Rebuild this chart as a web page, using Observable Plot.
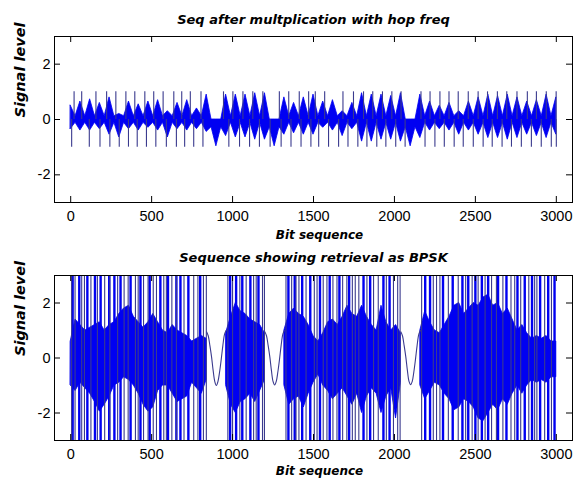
<!DOCTYPE html>
<html>
<head>
<meta charset="utf-8">
<script src="https://cdn.jsdelivr.net/npm/d3@7"></script>
<script src="https://cdn.jsdelivr.net/npm/@observablehq/plot@0.6"></script>
<style>
  body { margin: 0; background: #fff; }
  #chart svg { display: block; }
</style>
</head>
<body>
<div id="chart"></div>
<script>
// ---------- tick labels ----------
const xTicks = [0, 500, 1000, 1500, 2000, 2500, 3000];
const yTicks = [-2, 0, 2];

// ---------- top panel: "Seq after multplication with hop freq" ----------
// envelope of the dense signal, sampled every 30 bits (x = 0, 30, ..., 3000)
const topHi = [0.5,0.12,0.65,0.12,0.73,0.12,0.6,0.12,0.8,0.12,
  0.2,0.12,0.65,0.12,0.55,0.12,0.65,0.12,0.7,0.12,
  0.3,0.12,0.6,0.12,0.7,0.12,0.4,0.12,0.9,0,
  0,0,0.9,0.12,0.9,0.12,0.9,0.12,0.95,0.12,
  0.95,0,0,0,0.8,0.12,0.6,0.12,0.8,0.12,
  0.9,0.12,0.65,0.12,0.7,0.12,0.3,0.12,0.6,0.12,
  0.95,0.12,0.9,0.12,0.9,0.12,0.85,0.12,0.95,0,
  0,0,0.9,0.12,0.65,0.12,0.5,0.12,0.6,0.12,
  0.3,0.12,0.65,0.12,0.8,0.12,0.9,0.12,0.85,0.12,
  0.9,0.12,0.8,0.12,0.65,0.12,0.7,0.12,0.9,0.12,0.8];
const topLo = [-0.35,-0.12,-0.4,-0.12,-0.4,-0.12,-0.35,-0.12,-0.55,-0.12,
  -0.65,-0.12,-0.35,-0.12,-0.4,-0.12,-0.3,-0.12,-0.4,-0.12,
  -0.65,-0.12,-0.35,-0.12,-0.4,-0.12,-0.35,-0.12,-0.45,-0.28,
  -0.97,-0.28,-0.6,-0.12,-0.65,-0.12,-0.65,-0.12,-0.73,-0.12,
  -0.73,-0.28,-0.97,-0.28,-0.55,-0.12,-0.5,-0.12,-0.55,-0.12,
  -0.55,-0.12,-0.3,-0.12,-0.4,-0.12,-0.6,-0.12,-0.35,-0.12,
  -0.8,-0.12,-0.8,-0.12,-0.73,-0.12,-0.73,-0.12,-0.8,-0.28,
  -0.97,-0.28,-0.67,-0.12,-0.4,-0.12,-0.35,-0.12,-0.4,-0.12,
  -0.55,-0.12,-0.4,-0.12,-0.55,-0.12,-0.67,-0.12,-0.67,-0.12,
  -0.73,-0.12,-0.67,-0.12,-0.55,-0.12,-0.6,-0.12,-0.67,-0.12,-0.55];
// thin spikes reaching +1 and -1
const topSpikeUpX = [21,68,156,222,279,341,396,458,513,571,637,686,739,805,944,1002,1064,1125,1187,
  1289,1347,1412,1470,1511,1569,1682,1747,1809,1866,1926,1984,2041,2164,2220,2281,2337,2394,2456,
  2517,2575,2636,2694,2757,2821,2877,2938,2999];
const topSpikeDownX = [6,115,181,242,300,357,411,468,526,591,653,704,760,817,977,1043,1105,1166,1232,
  1300,1361,1423,1484,1532,1593,1655,1713,1774,1830,1891,1947,2008,2066,2189,2250,2308,2369,2425,
  2487,2548,2604,2665,2723,2784,2846,2907,2969,3000];

// ---------- bottom panel: "Sequence showing retrieval as BPSK" ----------
const botHi = [0.6,1.4,1.2,1.0,1.1,1.2,1.3,1.0,1.2,1.3,
  1.6,1.8,1.9,1.5,1.3,1.1,1.3,1.6,1.3,1.0,
  0.9,1.2,1.0,0.9,0.8,0.6,0.7,0.8,0.7,null,
  null,null,0.9,1.5,2.0,1.7,1.6,1.4,1.3,1.2,
  0.9,null,null,null,1.0,1.6,1.8,1.6,1.5,1.2,
  0.8,0.6,0.9,1.3,1.4,1.2,1.5,1.9,1.6,1.5,
  1.9,1.5,1.2,1.0,1.9,1.3,1.0,1.2,0.9,null,
  null,null,1.0,1.7,1.3,1.0,0.9,1.2,1.5,1.9,
  2.0,1.6,1.8,2.0,1.9,2.2,2.3,1.9,2.0,1.6,
  1.8,1.4,1.0,1.2,0.9,0.7,0.8,0.7,0.8,0.6,0.6];
const botLo = [-1.0,-1.2,-0.9,-1.1,-1.3,-1.6,-1.95,-1.7,-1.4,-1.0,
  -0.9,-0.7,-0.8,-1.0,-1.3,-1.7,-1.95,-1.8,-1.2,-1.0,
  -1.0,-1.3,-1.6,-1.5,-1.4,-0.9,-1.1,-1.3,-0.8,null,
  null,null,-1.0,-1.7,-2.0,-1.6,-1.5,-1.3,-1.6,-1.2,
  -0.8,null,null,null,-1.0,-1.7,-1.5,-1.4,-1.8,-1.3,
  -0.9,-0.6,-1.0,-1.2,-1.5,-1.3,-1.1,-1.4,-1.7,-1.3,
  -2.0,-1.4,-1.1,-1.3,-2.0,-1.4,-1.1,-2.2,-0.9,null,
  null,null,-1.0,-1.5,-1.2,-0.9,-1.0,-1.3,-1.5,-1.9,
  -1.8,-1.5,-1.6,-1.8,-2.2,-2.3,-2.0,-1.7,-1.9,-1.5,
  -1.7,-1.3,-1.0,-1.3,-1.0,-0.8,-0.9,-0.8,-0.9,-0.7,-0.7];
// slow waves in the gaps, read every 10 bits
const wave1Start = 840, wave2Start = 1200, wave3Start = 2040;
const wave1Y = [0.95,0.8,0.45,0.05,-0.45,-0.85,-1.0,-0.85,-0.5,-0.05,0.45,0.85,1.0];
const wave2Y = [0.95,0.8,0.45,0.05,-0.45,-0.85,-0.98,-0.85,-0.5,-0.05,0.45,0.85,1.0];
const wave3Y = [0.95,0.8,0.45,0.05,-0.45,-0.85,-0.97,-0.85,-0.5,-0.05,0.45,0.85,1.0];
// thin lines running off the axes (beyond +/-3)
const botSpikeX = [6,27,68,85,125,165,210,242,290,330,355,400,417,450,478,510,530,575,591,625,653,
  700,760,786,820,838,971,1000,1045,1084,1130,1146,1185,1197,1330,1365,1392,1410,1454,1505,1522,
  1560,1583,1620,1645,1680,1706,1740,1758,1780,1830,1871,1900,1950,1994,2020,2035,2168,2240,2260,
  2281,2333,2394,2440,2480,2517,2560,2600,2630,2670,2720,2743,2780,2830,2866,2880,2928,2970];
// thick blue bursts running off the axes
const botBarX = [12,53,103,150,185,238,270,308,370,431,488,554,601,653,678,727,800,985,1022,1060,
  1110,1160,1345,1384,1430,1480,1540,1600,1660,1720,1809,1850,1932,1970,2190,2220,2300,2360,2420,
  2456,2500,2540,2579,2640,2692,2760,2805,2850,2900,2950,2989];

// ---------- build tables ----------
const grid = (hi, lo, step) => hi.map((h, i) => ({x: i * step, hi: h, lo: lo[i]}));
const waveTable = (start, ys, id) => ys.map((y, i) => ({x: start + i * 10, y, id}));

const topEnv = grid(topHi, topLo, 30);
const topSpikes = [
  ...topSpikeUpX.map(x => ({x, y: 1})),
  ...topSpikeDownX.map(x => ({x, y: -1}))
];
const botEnv = grid(botHi, botLo, 30);
const waves = [
  ...waveTable(wave1Start, wave1Y, 1),
  ...waveTable(wave2Start, wave2Y, 2),
  ...waveTable(wave3Start, wave3Y, 3)
];

// ---------- styling ----------
const TICK_FONT = "'Liberation Sans', Arial, Helvetica, sans-serif";
const LABEL_FONT = "'DejaVu Sans', Verdana, sans-serif";
const BLUE = "#0000f2";
const SPIKE = "#3a3a8e";
const W = 573;
const X_DOMAIN = [-100, 3100];
const Y_DOMAIN = [-3, 3];
const TICK_PX = 6;

function panel({height, marginTop, marginBottom, title, titleDy, xlabelDy, marks}) {
  const plotW = W - 54 - 1;
  const plotH = height - marginTop - marginBottom;
  const tx = TICK_PX * (X_DOMAIN[1] - X_DOMAIN[0]) / plotW;
  const ty = TICK_PX * (Y_DOMAIN[1] - Y_DOMAIN[0]) / plotH;
  return Plot.plot({
    width: W,
    height,
    marginLeft: 54,
    marginRight: 1,
    marginTop,
    marginBottom,
    style: {fontFamily: TICK_FONT, fontSize: "14px", color: "black", background: "white"},
    x: {domain: X_DOMAIN},
    y: {domain: Y_DOMAIN},
    marks: [
      ...marks,
      Plot.ruleX(xTicks, {x: d => d, y1: Y_DOMAIN[0], y2: Y_DOMAIN[0] + ty, stroke: "black"}),
      Plot.ruleX(xTicks, {x: d => d, y1: Y_DOMAIN[1], y2: Y_DOMAIN[1] - ty, stroke: "black"}),
      Plot.ruleY(yTicks, {y: d => d, x1: X_DOMAIN[0], x2: X_DOMAIN[0] + tx, stroke: "black"}),
      Plot.ruleY(yTicks, {y: d => d, x1: X_DOMAIN[1], x2: X_DOMAIN[1] - tx, stroke: "black"}),
      Plot.frame({stroke: "black", strokeWidth: 1}),
      Plot.axisX(xTicks, {tickSize: 0, tickPadding: 8, label: null, fontSize: 14.5, tickFormat: d => String(d)}),
      Plot.axisY(yTicks, {tickSize: 0, tickPadding: 4, label: null, fontSize: 14.5, tickFormat: d => String(d)}),
      Plot.text([title], {frameAnchor: "top", dy: titleDy, lineAnchor: "middle",
        fontFamily: LABEL_FONT, fontWeight: "bold", fontStyle: "italic", fontSize: 13}),
      Plot.text(["Bit sequence"], {frameAnchor: "bottom", dx: 6, dy: xlabelDy, lineAnchor: "middle",
        fontFamily: LABEL_FONT, fontWeight: "bold", fontStyle: "italic", fontSize: 12}),
      Plot.text(["Signal level"], {frameAnchor: "left", dx: -34, dy: -2, rotate: -90, lineAnchor: "middle",
        fontFamily: LABEL_FONT, fontWeight: "bold", fontStyle: "italic", fontSize: 14.5})
    ]
  });
}

const topPanel = panel({
  height: 245, marginTop: 36, marginBottom: 43,
  title: "Seq after multplication with hop freq", titleDy: -16.5, xlabelDy: 33,
  marks: [
    Plot.areaY(topEnv, {x: "x", y1: "lo", y2: "hi", fill: BLUE, stroke: BLUE, strokeWidth: 0.8}),
    Plot.ruleX(topSpikes, {x: "x", y1: 0, y2: "y", stroke: SPIKE, strokeWidth: 1.1})
  ]
});

const bottomPanel = panel({
  height: 237, marginTop: 30, marginBottom: 42,
  title: "Sequence showing retrieval as BPSK", titleDy: -18, xlabelDy: 31,
  marks: [
    Plot.areaY(botEnv, {x: "x", y1: "lo", y2: "hi", fill: BLUE, stroke: BLUE, strokeWidth: 0.8, clip: true}),
    Plot.ruleX(botBarX, {x: d => d, y1: -4, y2: 4, stroke: BLUE, strokeWidth: 2.4, clip: true}),
    Plot.ruleX(botSpikeX, {x: d => d, y1: -4, y2: 4, stroke: SPIKE, strokeWidth: 1.1, clip: true}),
    Plot.line(waves, {x: "x", y: "y", z: "id", stroke: SPIKE, strokeWidth: 1.1, curve: "catmull-rom", clip: true})
  ]
});

const host = document.getElementById("chart");
host.appendChild(topPanel);
host.appendChild(bottomPanel);
</script>
</body>
</html>
